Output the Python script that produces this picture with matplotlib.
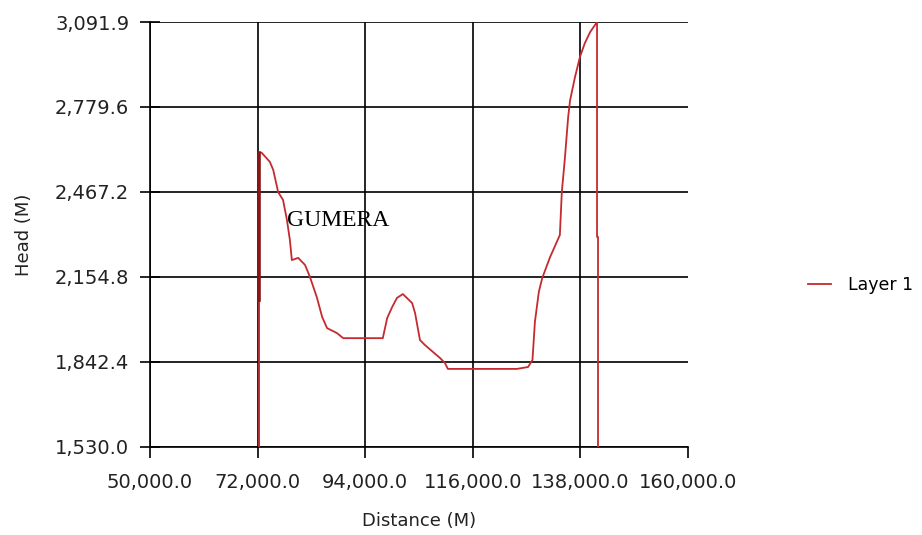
import matplotlib
matplotlib.use('Agg')
import matplotlib.pyplot as plt
from matplotlib.ticker import FuncFormatter

# profile along the section (distance in m, head)
dist = [72300, 72300, 72800, 74500, 75200, 76200, 77200, 78000, 78600, 79000,
        80300, 81700, 82700, 84100, 85200, 86200, 88200, 89500, 97600, 98500,
        99500, 100500, 101700, 103600, 104200, 105200, 106200, 109300, 110300,
        110900, 125000, 127300, 128200, 128700, 129500, 130200, 131800, 133800,
        134200, 134800, 135500, 135900, 136900, 137900, 138900, 140000, 141400,
        141400, 141600, 141600]
head = [1530, 2610, 2612, 2578, 2548, 2467, 2438, 2364, 2291, 2217,
        2225, 2199, 2155, 2081, 2008, 1967, 1949, 1930, 1930, 2004,
        2044, 2078, 2092, 2059, 2022, 1923, 1905, 1857, 1839,
        1817, 1817, 1824, 1850, 1990, 2100, 2151, 2228, 2309,
        2467, 2585, 2743, 2805, 2890, 2963, 3014, 3055, 3092,
        2302, 2302, 1530]

# darker overlapping stretch at the start
thick_x = [72300, 72300]
thick_y = [2612, 2070]

xticks = [50000, 72000, 94000, 116000, 138000, 160000]
yticks = [1530.0, 1842.4, 2154.8, 2467.2, 2779.6, 3091.9]

label_x, label_y = 78000, 2364

fig = plt.figure(figsize=(9.22, 5.35), dpi=100)
ax = fig.add_axes([150/922, 88/535, 538/922, 425/535])

line, = ax.plot(dist, head, color='#c42a2e', lw=1.3, label='Layer 1', zorder=3)
ax.plot(thick_x, thick_y, color='#8a1515', lw=2.6, zorder=4)

ax.set_xlim(50000, 160000)
ax.set_ylim(1530.0, 3091.9)
ax.set_xticks(xticks)
ax.set_yticks(yticks)
ax.xaxis.set_major_formatter(FuncFormatter(lambda v, p: f'{v:,.1f}'))
ax.yaxis.set_major_formatter(FuncFormatter(lambda v, p: f'{v:,.1f}'))

ax.grid(True, color='black', lw=1.2)
ax.xaxis.get_gridlines()[-1].set_visible(False)
for s in ['top', 'right']:
    ax.spines[s].set_visible(False)
for s in ['left', 'bottom']:
    ax.spines[s].set_linewidth(1.2)

ax.tick_params(axis='y', direction='inout', length=14, width=1.2,
               labelsize=14, pad=8, colors='black')
ax.tick_params(axis='x', direction='out', length=8, width=1.2,
               labelsize=14, pad=11, colors='black')
for t in ax.get_xticklabels() + ax.get_yticklabels():
    t.set_color('#222222')

ax.text(label_x, label_y, 'GUMERA', family='Liberation Serif', fontsize=17,
        va='center', ha='left', color='black')

ax.set_xlabel('Distance (M)', fontsize=13, labelpad=14, color='#222222')
ax.set_ylabel('Head (M)', fontsize=13, labelpad=16, color='#222222')

fig.legend(handles=[line], loc='center left', bbox_to_anchor=(808/922, 250/535),
           frameon=False, fontsize=12.5, handlelength=1.3, handletextpad=1.0,
           borderaxespad=0, borderpad=0)

fig.savefig('out.png', dpi=100)
